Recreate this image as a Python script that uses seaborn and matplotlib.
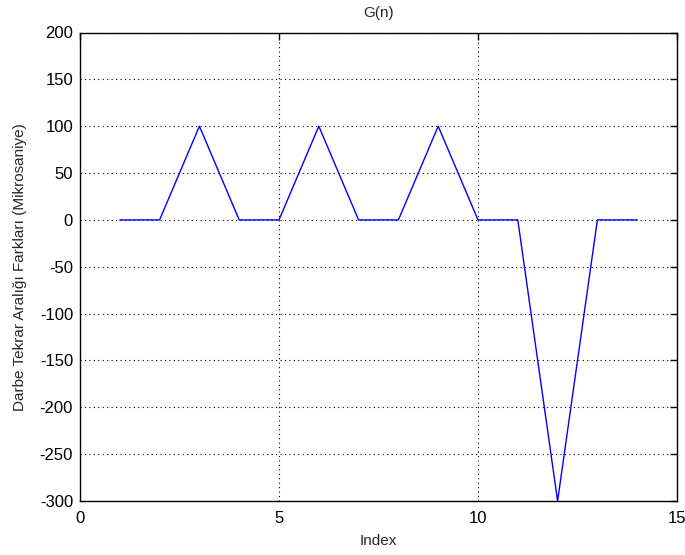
import matplotlib
matplotlib.use("Agg")
import matplotlib.pyplot as plt
import seaborn as sns
import pandas as pd

# Pulse repetition interval differences per index
index = [1, 2, 3, 4, 5, 6, 7, 8, 9, 10, 11, 12, 13, 14]
farklar = [0, 0, 100, 0, 0, 100, 0, 0, 100, 0, 0, -300, 0, 0]
x_ticks = [0, 5, 10, 15]
y_ticks = [200, 150, 100, 50, 0, -50, -100, -150, -200, -250, -300]

df = pd.DataFrame({"Index": index, "G": farklar})

sns.set_style("white")
plt.rcParams["font.family"] = ["Liberation Sans", "DejaVu Sans"]
plt.rcParams["axes.unicode_minus"] = False

fig = plt.figure(figsize=(6.85, 5.55), dpi=100)
ax = fig.add_axes([80 / 685, 1 - 501 / 555, 597 / 685, 468.5 / 555])

sns.lineplot(data=df, x="Index", y="G", ax=ax, color="#0000ff", linewidth=1.0)

ax.set_xlim(0, 15)
ax.set_ylim(-300, 200)
ax.set_xticks(x_ticks)
ax.set_yticks(y_ticks)
ax.tick_params(direction="in", length=5, width=1, labelsize=12, colors="black",
               top=True, right=True)
ax.tick_params(axis="x", pad=7)
ax.tick_params(axis="y", pad=5)
ax.grid(True, linestyle=(0, (1, 3)), color="black", linewidth=0.8)
for s in ax.spines.values():
    s.set_color("black")
    s.set_linewidth(1.0)

ax.set_title("G(n)", fontsize=11, pad=11)
ax.set_xlabel("Index", fontsize=11, labelpad=6)
ax.set_ylabel("Darbe Tekrar Aralığı Farkları (Mikrosaniye)", fontsize=11, labelpad=9)

fig.savefig("out.png", dpi=100)
